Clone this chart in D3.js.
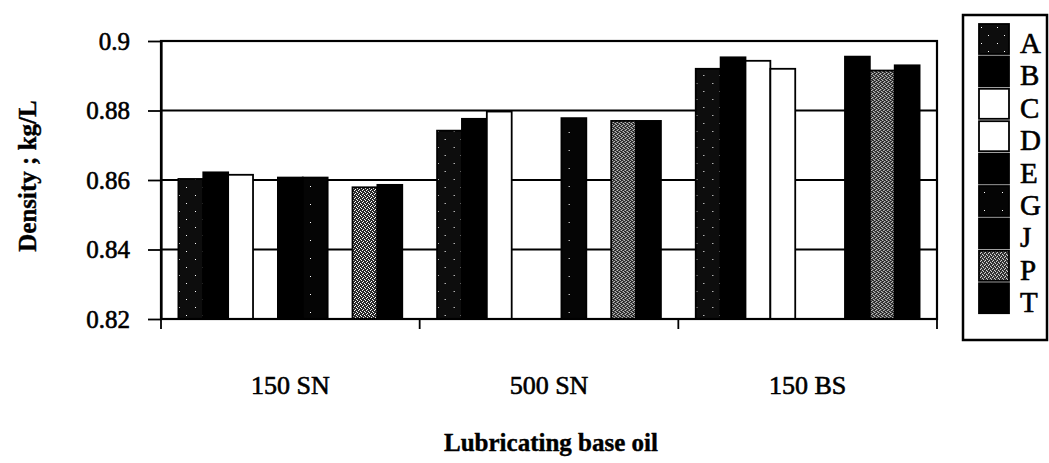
<!DOCTYPE html>
<html>
<head>
<meta charset="utf-8">
<script src="https://cdn.jsdelivr.net/npm/d3@7"></script>
<style>
  body { margin: 0; background: #fff; }
  svg { display: block; font-family: "Liberation Serif", "Times New Roman", serif; }
</style>
</head>
<body>
<svg width="1049" height="463"></svg>
<script>
// base oils on the x axis
const categories = ["150 SN", "500 SN", "150 BS"];
const seriesNames = ["A", "B", "C", "D", "E", "G", "J", "P", "T"];
// density (kg/L) per sample, one value per base oil, null = no bar
const valA = [0.8603, 0.8742, 0.8920];
const valB = [0.8622, 0.8776, 0.8953];
const valC = [0.8615, 0.8797, 0.8943];
const valD = [null, null, 0.8920];
const valE = [0.8607, null, null];
const valG = [0.8607, 0.8778, null];
const valJ = [null, null, 0.8955];
const valP = [0.8579, 0.8770, 0.8915];
const valT = [0.8586, 0.8770, 0.8930];
const yTicks = [0.82, 0.84, 0.86, 0.88, 0.9];

const seriesVals = {A: valA, B: valB, C: valC, D: valD, E: valE, G: valG, J: valJ, P: valP, T: valT};

const svg = d3.select("svg");
const plotL = 161, plotR = 937, plotT = 41, plotB = 319;

// fills: scanned look, black, white, stippled
const defs = svg.append("defs");
function speckle(id, bg, dots, size) {
  const p = defs.append("pattern").attr("id", id).attr("patternUnits", "userSpaceOnUse")
    .attr("width", size).attr("height", size);
  p.append("rect").attr("width", size).attr("height", size).attr("fill", bg);
  dots.forEach(d => p.append("rect").attr("x", d[0]).attr("y", d[1]).attr("width", 1).attr("height", 1).attr("fill", "#fff"));
}
speckle("patA", "#0d0d0d", [[2, 3], [9, 11]], 16);
speckle("patG", "#050505", [[5, 6]], 18);
speckle("patP", "#2a2a2a", [[0, 0], [2, 1], [1, 2], [3, 3]], 4);

const fills = {A: "url(#patA)", B: "#000", C: "#fff", D: "#fff", E: "#000", G: "url(#patG)", J: "#000", P: "url(#patP)", T: "#000"};

const y = d3.scaleLinear().domain([0.82, 0.9]).range([plotB, plotT]);
const x0 = d3.scaleBand().domain(categories).range([plotL, plotR]).padding(0);
const x1 = d3.scaleBand().domain(seriesNames).range([0, x0.bandwidth()]).paddingInner(0).paddingOuter(0.7);

// gridlines
svg.append("g").selectAll("line").data(yTicks).enter().append("line")
  .attr("x1", plotL).attr("x2", plotR)
  .attr("y1", d => y(d)).attr("y2", d => y(d))
  .attr("stroke", "#000").attr("stroke-width", 2);

// bars
const groups = svg.append("g").selectAll("g").data(categories).enter().append("g")
  .attr("transform", d => "translate(" + x0(d) + ",0)");
groups.selectAll("rect")
  .data((c, i) => seriesNames.map(s => ({s: s, v: seriesVals[s][i]})).filter(d => d.v != null))
  .enter().append("rect")
  .attr("x", d => x1(d.s))
  .attr("y", d => y(d.v))
  .attr("width", x1.bandwidth())
  .attr("height", d => y(0.82) - y(d.v))
  .attr("fill", d => fills[d.s])
  .attr("stroke", "#000").attr("stroke-width", 1.8);

// plot frame
svg.append("rect").attr("x", plotL).attr("y", plotT).attr("width", plotR - plotL).attr("height", plotB - plotT)
  .attr("fill", "none").attr("stroke", "#000").attr("stroke-width", 2.2);

// y axis
const yAxis = svg.append("g").attr("transform", "translate(" + plotL + ",0)")
  .call(d3.axisLeft(y).tickValues(yTicks).tickFormat(d => String(d)).tickSize(13).tickSizeOuter(0).tickPadding(18));
yAxis.select(".domain").attr("stroke", "#000").attr("stroke-width", 2.2);
yAxis.selectAll(".tick line").attr("stroke", "#000").attr("stroke-width", 1.8);
yAxis.selectAll("text").attr("font-family", "Liberation Serif").attr("font-size", 25)
  .attr("fill", "#000").attr("stroke", "#000").attr("stroke-width", 0.6);

// x axis: boundary ticks + category labels
const bounds = categories.map(c => x0(c)).concat([plotR]);
svg.append("g").selectAll("line").data(bounds).enter().append("line")
  .attr("x1", d => d).attr("x2", d => d).attr("y1", plotB).attr("y2", plotB + 10)
  .attr("stroke", "#000").attr("stroke-width", 1.8);
const xAxis = svg.append("g").attr("transform", "translate(0," + plotB + ")")
  .call(d3.axisBottom(x0).tickSize(0).tickPadding(57));
xAxis.select(".domain").remove();
xAxis.selectAll("text").attr("font-family", "Liberation Serif").attr("font-size", 26)
  .attr("fill", "#000").attr("stroke", "#000").attr("stroke-width", 0.6);

// axis titles
svg.append("text")
  .attr("transform", "translate(36," + ((plotT + plotB) / 2 - 4) + ") rotate(-90)")
  .attr("text-anchor", "middle").attr("font-weight", "bold").attr("font-size", 25)
  .attr("stroke", "#000").attr("stroke-width", 0.4)
  .text("Density ; kg/L");
svg.append("text")
  .attr("x", (plotL + plotR) / 2 + 2).attr("y", 451)
  .attr("text-anchor", "middle").attr("font-weight", "bold").attr("font-size", 25)
  .attr("stroke", "#000").attr("stroke-width", 0.4)
  .text("Lubricating base oil");

// legend
const legend = svg.append("g");
legend.append("rect").attr("x", 963).attr("y", 15).attr("width", 84).attr("height", 325)
  .attr("fill", "#fff").attr("stroke", "#000").attr("stroke-width", 2.5);
const rowH = 32.4;
const item = legend.selectAll("g.item").data(seriesNames).enter().append("g").attr("class", "item")
  .attr("transform", (d, i) => "translate(979," + (24 + i * rowH) + ")");
item.append("rect").attr("width", 30).attr("height", 30)
  .attr("fill", d => fills[d]).attr("stroke", "#000").attr("stroke-width", 1.8);
item.append("text").attr("x", 41).attr("y", 29).attr("font-size", 29)
  .attr("stroke", "#000").attr("stroke-width", 0.6).text(d => d);
</script>
</body>
</html>
